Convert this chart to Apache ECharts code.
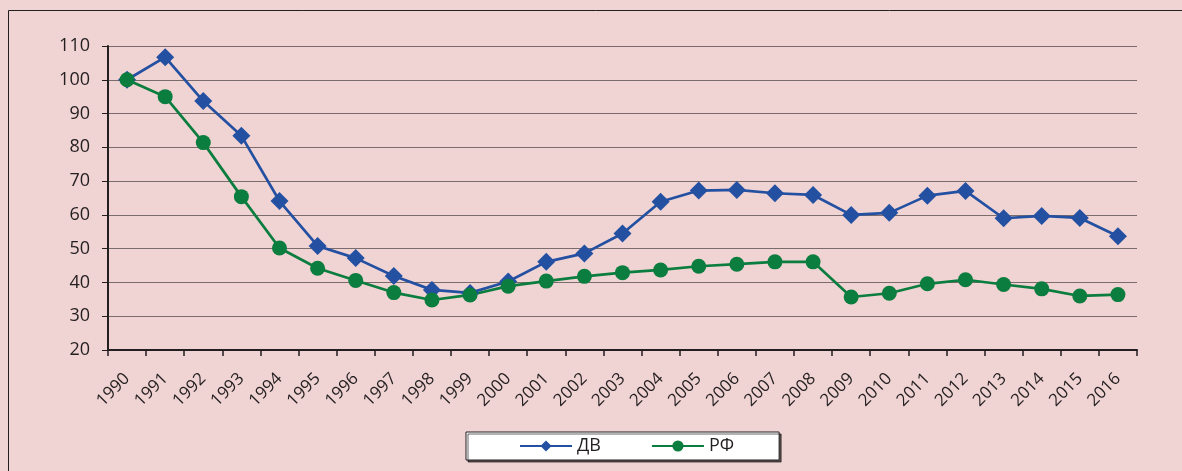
<!DOCTYPE html>
<html>
<head>
<meta charset="utf-8">
<script src="https://cdn.jsdelivr.net/npm/echarts@6/dist/echarts.min.js"></script>
<style>
  html, body { margin: 0; padding: 0; background: #f0d3d3; }
  #chart { width: 1182px; height: 471px; }
</style>
</head>
<body>
<div id="chart"></div>
<script>
const years = ['1990', '1991', '1992', '1993', '1994', '1995', '1996', '1997', '1998', '1999',
    '2000', '2001', '2002', '2003', '2004', '2005', '2006', '2007', '2008', '2009',
    '2010', '2011', '2012', '2013', '2014', '2015', '2016'];
const dvValues = [100, 106.7, 93.7, 83.4, 64.1, 50.8, 47.2, 41.9, 37.8, 36.9,
    40.3, 46.1, 48.6, 54.5, 63.9, 67.2, 67.4, 66.4, 65.9, 60,
    60.6, 65.7, 67.1, 59, 59.7, 59.1, 53.7];
const rfValues = [100, 95, 81.4, 65.4, 50.2, 44.2, 40.6, 37, 34.8, 36.3,
    38.9, 40.4, 41.8, 42.9, 43.7, 44.8, 45.4, 46.1, 46.1, 35.7,
    36.8, 39.6, 40.8, 39.4, 38.1, 36, 36.4];

const textColor = '#231f20';
const fontName = '"Open Sans", "Noto Sans", sans-serif';

const myChart = echarts.init(document.getElementById('chart'));

myChart.setOption({
    backgroundColor: '#f0d3d3',
    animation: false,
    textStyle: { fontFamily: fontName, color: textColor },
    grid: { left: 108, right: 45, top: 46, bottom: 121 },
    // frame of the original picture (only top and left edges show)
    graphic: [{
        type: 'rect',
        shape: { x: 8.5, y: 10.5, width: 1300, height: 600 },
        style: { fill: 'none', stroke: '#231f20', lineWidth: 1 },
        silent: true
    }],
    legend: {
        left: 466,
        top: 432,
        padding: [5, 45, 5, 53],
        itemWidth: 52,
        itemHeight: 14,
        itemGap: 50,
        backgroundColor: '#ffffff',
        borderColor: '#231f20',
        borderWidth: 1,
        borderRadius: 0,
        shadowColor: 'rgba(0,0,0,0.6)',
        shadowBlur: 0,
        shadowOffsetX: 2,
        shadowOffsetY: 2,
        textStyle: { fontSize: 18, color: textColor, fontFamily: fontName },
        data: ['ДВ', 'РФ']
    },
    xAxis: {
        type: 'category',
        data: years,
        boundaryGap: true,
        axisLine: { lineStyle: { color: textColor, width: 2 } },
        axisTick: { show: true, length: 6, lineStyle: { color: textColor, width: 1.5 } },
        axisLabel: { rotate: 45, fontSize: 17, color: textColor, margin: 26, interval: 0 },
        splitLine: { show: false }
    },
    yAxis: {
        type: 'value',
        min: 20,
        max: 110,
        interval: 10,
        axisLine: { show: true, lineStyle: { color: textColor, width: 2 } },
        axisTick: { show: true, length: 6, lineStyle: { color: textColor, width: 1 } },
        axisLabel: { fontSize: 18, color: textColor, margin: 18 },
        splitLine: { show: true, lineStyle: { color: '#7a6c6c', width: 1.2 } }
    },
    series: [{
        name: 'ДВ',
        type: 'line',
        data: dvValues,
        symbol: 'diamond',
        symbolSize: 18,
        color: '#2450a2',
        lineStyle: { width: 2.7, color: '#2450a2' },
        itemStyle: { color: '#2450a2' }
    }, {
        name: 'РФ',
        type: 'line',
        data: rfValues,
        symbol: 'circle',
        symbolSize: 15,
        color: '#0b7d3e',
        lineStyle: { width: 2.7, color: '#0b7d3e' },
        itemStyle: { color: '#0b7d3e' }
    }]
});
</script>
</body>
</html>
